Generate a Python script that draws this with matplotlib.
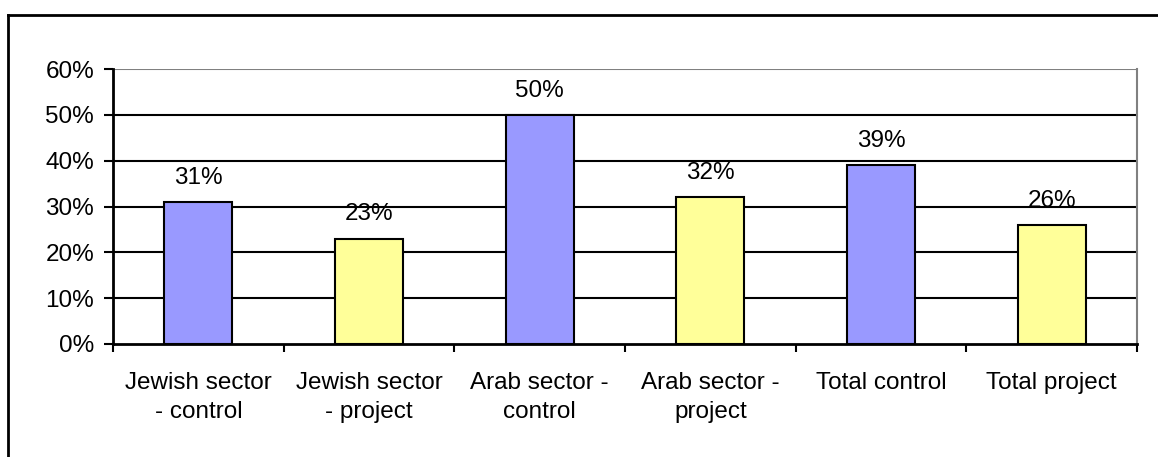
import matplotlib
matplotlib.use("Agg")
import matplotlib.pyplot as plt
from matplotlib.lines import Line2D

categories = ["Jewish sector\n- control", "Jewish sector\n- project", "Arab sector -\ncontrol",
              "Arab sector -\nproject", "Total control", "Total project"]
values = [31, 23, 50, 32, 39, 26]
colors = ["#9999FF", "#FFFF99", "#9999FF", "#FFFF99", "#9999FF", "#FFFF99"]
yticks = [0, 10, 20, 30, 40, 50, 60]

plt.rcParams['font.family'] = ['Liberation Sans', 'DejaVu Sans']
FS = 17.5

W, H = 1158, 457
fig = plt.figure(figsize=(W / 100, H / 100), dpi=100)
ax = fig.add_axes([113 / W, 1 - 344 / H, (1137 - 113) / W, (344 - 69) / H])

x = list(range(len(categories)))
ax.bar(x, values, width=0.4, color=colors, edgecolor="black", linewidth=1.5, zorder=3)
for xi, v in zip(x, values):
    ax.annotate(f"{v}%", (xi, v), xytext=(0, 9.5), textcoords="offset points",
                ha="center", va="bottom", fontsize=FS)

ax.set_xlim(-0.5, len(categories) - 0.5)
ax.set_ylim(0, 60)
ax.set_yticks(yticks)
ax.set_yticklabels([f"{t}%" for t in yticks], fontsize=FS)
for t in yticks[1:-1]:
    ax.axhline(t, color="black", linewidth=1.5, zorder=1)
ax.axhline(60, color="#808080", linewidth=1.5, zorder=1)

ax.set_xticks(x)
ax.set_xticklabels(categories, fontsize=FS, linespacing=1.45)
ax.tick_params(axis="x", length=0, pad=20)
ax.tick_params(axis="y", length=6.5, width=1.5, direction="out", pad=7)
ax.set_xticks([i - 0.5 for i in range(len(categories) + 1)], minor=True)
ax.tick_params(axis="x", which="minor", length=6, width=1.5, direction="out")

for s in ["left", "bottom"]:
    ax.spines[s].set_color("black")
    ax.spines[s].set_linewidth(2)
ax.spines["top"].set_visible(False)
ax.spines["right"].set_color("#808080")
ax.spines["right"].set_linewidth(1.5)

# outer border (top and left visible)
fig.add_artist(Line2D([8 / W, 1.0], [1 - 15 / H, 1 - 15 / H], transform=fig.transFigure,
                      color="black", linewidth=2))
fig.add_artist(Line2D([8 / W, 8 / W], [0.0, 1 - 15 / H], transform=fig.transFigure,
                      color="black", linewidth=2))

fig.savefig("out.png", dpi=100)
